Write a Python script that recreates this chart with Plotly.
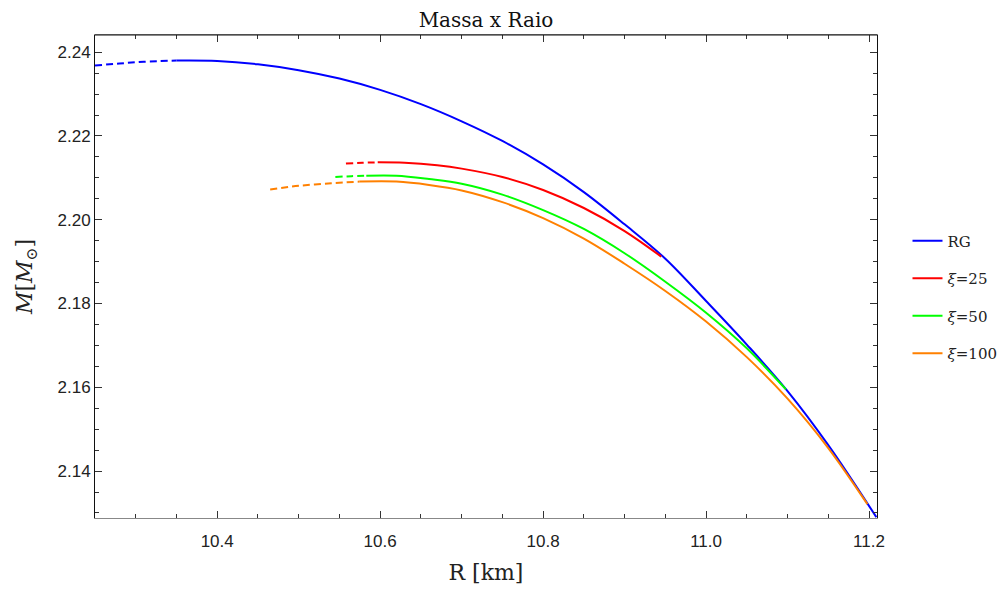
import plotly.graph_objects as go

# ---------------- data ----------------
# RG
rg_dash_R = [10.25, 10.28, 10.31, 10.35]
rg_dash_M = [2.2368, 2.2373, 2.2377, 2.2380]
rg_R = [10.35, 10.40, 10.45, 10.50, 10.55, 10.60, 10.65, 10.70, 10.75, 10.80,
        10.85, 10.90, 10.95, 11.00, 11.05, 11.10, 11.15, 11.209]
rg_M = [2.2380, 2.2379, 2.2371, 2.2357, 2.2337, 2.2310, 2.2276, 2.2235, 2.2188, 2.2132,
        2.2066, 2.1989, 2.1907, 2.1806, 2.1702, 2.1591, 2.1462, 2.1290]

# xi = 25
xi25_dash_R = [10.558, 10.578, 10.597]
xi25_dash_M = [2.2134, 2.2136, 2.2137]
xi25_R = [10.597, 10.63, 10.67, 10.70, 10.75, 10.80, 10.85, 10.90, 10.945]
xi25_M = [2.2137, 2.2136, 2.2130, 2.2122, 2.2102, 2.2071, 2.2028, 2.1973, 2.1912]

# xi = 50
xi50_dash_R = [10.545, 10.565, 10.583]
xi50_dash_M = [2.2102, 2.2104, 2.2105]
xi50_R = [10.583, 10.62, 10.66, 10.70, 10.75, 10.80, 10.85, 10.90, 10.95, 11.00, 11.05, 11.098]
xi50_M = [2.2105, 2.2105, 2.2097, 2.2086, 2.2060, 2.2023, 2.1978, 2.1920, 2.1852, 2.1778, 2.1693, 2.1595]

# xi = 100
xi100_dash_R = [10.465, 10.50, 10.54, 10.575]
xi100_dash_M = [2.2072, 2.2081, 2.2087, 2.2091]
xi100_R = [10.575, 10.62, 10.66, 10.70, 10.75, 10.80, 10.85, 10.90, 10.95, 11.00,
           11.05, 11.10, 11.15, 11.198]
xi100_M = [2.2091, 2.2091, 2.2083, 2.2070, 2.2042, 2.2004, 2.1955, 2.1895, 2.1830, 2.1757,
           2.1672, 2.1573, 2.1455, 2.1321]

series = [
    ("RG", "#0000FF", rg_dash_R, rg_dash_M, rg_R, rg_M),
    ("<i>ξ</i>=25", "#FF0000", xi25_dash_R, xi25_dash_M, xi25_R, xi25_M),
    ("<i>ξ</i>=50", "#00FF00", xi50_dash_R, xi50_dash_M, xi50_R, xi50_M),
    ("<i>ξ</i>=100", "#FF8000", xi100_dash_R, xi100_dash_M, xi100_R, xi100_M),
]

x_ticks = [10.4, 10.6, 10.8, 11.0, 11.2]
y_ticks = [2.14, 2.16, 2.18, 2.20, 2.22, 2.24]

SERIF = "DejaVu Serif, Liberation Serif, serif"
SANS = "Liberation Sans, Arial, sans-serif"

fig = go.Figure()
for i, (name, color, dR, dM, sR, sM) in enumerate(series):
    fig.add_trace(go.Scatter(
        x=dR, y=dM, mode="lines", line=dict(color=color, width=2, dash="7px,4px", shape="spline"),
        showlegend=False, legendgroup=f"g{i}", hoverinfo="skip"))
    fig.add_trace(go.Scatter(
        x=sR, y=sM, mode="lines", line=dict(color=color, width=2, shape="spline"),
        name=name, legendgroup=f"g{i}"))

axis_common = dict(
    showgrid=False, zeroline=False, showline=True, linewidth=1,
    mirror="ticks", ticks="inside", tickcolor="#333", tickwidth=1,
    tickfont=dict(family=SANS, size=17, color="#222"),
)

fig.update_xaxes(
    **axis_common, linecolor="#888",
    range=[10.25, 11.2098], tickvals=x_ticks, ticktext=[f"{v:.1f}" for v in x_ticks],
    ticklen=7, ticklabelstandoff=8,
    minor=dict(dtick=0.05, tick0=10.25, ticks="inside", ticklen=4, tickcolor="#333", showgrid=False),
    title=dict(text="R [km]", font=dict(family=SERIF, size=22, color="#222"), standoff=14),
)
fig.update_yaxes(
    **axis_common, linecolor="#111",
    range=[2.1288, 2.2441], tickvals=y_ticks, ticktext=[f"{v:.2f}" for v in y_ticks],
    ticklen=7,
    minor=dict(dtick=0.005, tick0=2.13, ticks="inside", ticklen=4, tickcolor="#333", showgrid=False),
    title=dict(text="<i>M</i>[<i>M</i><sub>⊙</sub>]", font=dict(family=SERIF, size=22, color="#222"), standoff=18),
)

fig.update_layout(
    width=1008, height=589,
    margin=dict(l=95, r=131, t=35, b=71, autoexpand=False),
    paper_bgcolor="white", plot_bgcolor="white",
    title=dict(text="Massa x Raio", x=(95 + 782 / 2) / 1008, xanchor="center", y=1 - 20 / 589, yanchor="middle",
               font=dict(family=SERIF, size=20, color="#111")),
    legend=dict(x=1.039, xanchor="left", y=0.4576, yanchor="middle",
                font=dict(family=SERIF, size=15, color="#222"),
                tracegroupgap=15, bgcolor="rgba(0,0,0,0)"),
    shapes=[dict(type="line", xref="paper", yref="paper", x0=0, x1=1, y0=1, y1=1,
                 line=dict(color="#111", width=1))],
)

fig.write_html("out.html")
